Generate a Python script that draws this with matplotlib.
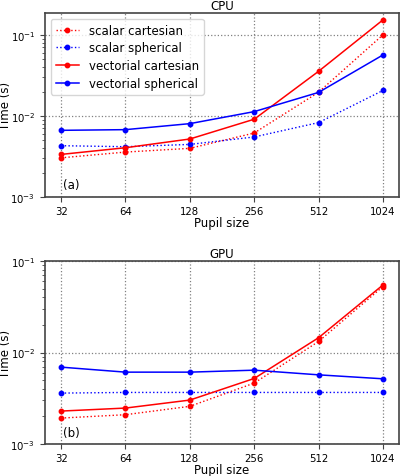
import matplotlib
matplotlib.use("Agg")
import matplotlib.pyplot as plt
import matplotlib.ticker as mticker

# --- Data ---
pupil_sizes = [32, 64, 128, 256, 512, 1024]

cpu_scalar_cart = [3.04e-3, 3.58e-3, 3.98e-3, 6.15e-3, 1.96e-2, 1.00e-1]
cpu_scalar_sph = [4.29e-3, 4.17e-3, 4.45e-3, 5.50e-3, 8.27e-3, 2.06e-2]
cpu_vect_cart = [3.35e-3, 4.05e-3, 5.19e-3, 9.10e-3, 3.55e-2, 1.53e-1]
cpu_vect_sph = [6.64e-3, 6.77e-3, 8.03e-3, 1.13e-2, 1.95e-2, 5.65e-2]

gpu_scalar_cart = [1.92e-3, 2.09e-3, 2.58e-3, 4.63e-3, 1.32e-2, 5.25e-2]
gpu_scalar_sph = [3.60e-3, 3.66e-3, 3.66e-3, 3.66e-3, 3.66e-3, 3.66e-3]
gpu_vect_cart = [2.29e-3, 2.47e-3, 3.02e-3, 5.20e-3, 1.45e-2, 5.47e-2]
gpu_vect_sph = [6.92e-3, 6.10e-3, 6.10e-3, 6.41e-3, 5.70e-3, 5.16e-3]

labels = ["scalar cartesian", "scalar spherical",
          "vectorial cartesian", "vectorial spherical"]

plt.rcParams.update({
    "font.size": 8.5,
    "axes.edgecolor": "#444444",
    "axes.linewidth": 1.2,
    "xtick.color": "#444444",
    "ytick.color": "#444444",
    "xtick.labelcolor": "black",
    "ytick.labelcolor": "black",
})

fig = plt.figure(figsize=(4.0, 4.77), dpi=100)
ax1 = fig.add_axes([0.1125, 0.585, 0.885, 0.3856])
ax2 = fig.add_axes([0.1125, 0.0671, 0.885, 0.3836])


def draw(ax, series, title, tag):
    styles = [("r", ":"), ("b", ":"), ("r", "-"), ("b", "-")]
    for vals, (c, ls), lab in zip(series, styles, labels):
        ax.plot(pupil_sizes, vals, color=c, linestyle=ls, marker="o",
                markersize=3.2, linewidth=1.0 if ls == ":" else 1.1, label=lab)
    ax.set_xscale("log", base=2)
    ax.set_yscale("log")
    ax.set_xticks(pupil_sizes)
    ax.xaxis.set_major_formatter(mticker.FixedFormatter([str(p) for p in pupil_sizes]))
    ax.xaxis.set_minor_locator(mticker.NullLocator())
    ax.yaxis.set_minor_locator(mticker.LogLocator(base=10, subs=range(2, 10)))
    ax.yaxis.set_minor_formatter(mticker.NullFormatter())
    ax.tick_params(labelsize=7.3)
    ax.tick_params(axis="x", pad=3)
    ax.grid(True, which="major", linestyle=":", color="gray", linewidth=0.9)
    ax.set_xlabel("Pupil size", labelpad=0)
    ax.set_ylabel("Time (s)")
    ax.yaxis.set_label_coords(-0.093, 0.5)
    ax.set_title(title, fontsize=8.5, pad=3)
    ax.text(0.05, 0.03, tag, transform=ax.transAxes, va="bottom", ha="left")


draw(ax1, [cpu_scalar_cart, cpu_scalar_sph, cpu_vect_cart, cpu_vect_sph], "CPU", "(a)")
ax1.set_ylim(bottom=1e-3)
ax1.legend(loc="upper left", fontsize=8.5, labelspacing=0.4)

draw(ax2, [gpu_scalar_cart, gpu_scalar_sph, gpu_vect_cart, gpu_vect_sph], "GPU", "(b)")
ax2.set_ylim(1e-3, 1e-1)

fig.savefig("out.png", dpi=100)
